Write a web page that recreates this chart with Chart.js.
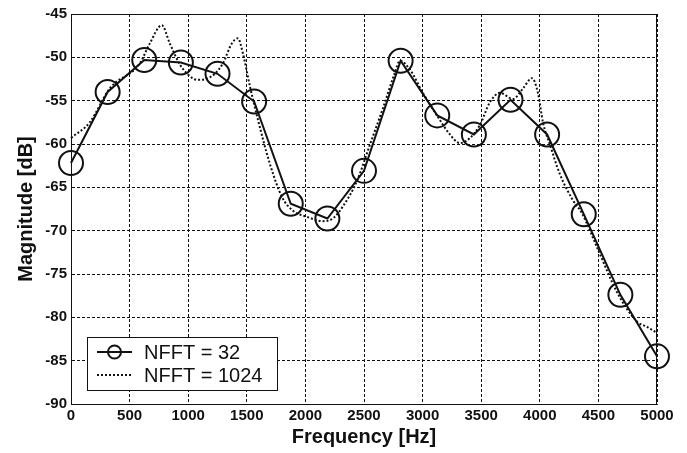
<!DOCTYPE html>
<html>
<head>
<meta charset="utf-8">
<style>
  html, body { margin: 0; padding: 0; background: #fff; }
  #wrap { width: 687px; height: 453px; }
</style>
<script src="https://cdn.jsdelivr.net/npm/chart.js@4/dist/chart.umd.min.js"></script>
</head>
<body>
<div id="wrap"><canvas id="specChart" width="687" height="453"></canvas></div>
<script>
// NFFT = 32 bins (circles)
const freq32 = [0, 312.5, 625, 937.5, 1250, 1562.5, 1875, 2187.5, 2500, 2812.5,
                3125, 3437.5, 3750, 4062.5, 4375, 4687.5, 5000];
const mag32 = [-62.2, -54.0, -50.3, -50.6, -51.9, -55.1, -66.9, -68.6, -63.1, -50.4,
               -56.7, -58.9, -54.9, -58.9, -68.1, -77.4, -84.5];

// NFFT = 1024 (dotted)
const freq1024 = [0, 160, 330, 587, 672, 775, 843, 928, 1000, 1080, 1150, 1227, 1296,
                  1372, 1424, 1466, 1526, 1586, 1697, 1800, 1894, 2013, 2150, 2234,
                  2320, 2439, 2550, 2661, 2763, 2806, 2891, 3002, 3122, 3233, 3318,
                  3404, 3489, 3574, 3660, 3771, 3856, 3933, 3984, 4027, 4087, 4172,
                  4283, 4360, 4497, 4659, 4830, 4915, 5000];
const mag1024 = [-59.3, -57.5, -53.6, -50.7, -48.4, -46.3, -48.4, -50.8, -52.0, -52.6,
                 -52.5, -51.9, -50.7, -48.4, -47.8, -49.5, -53.3, -56.7, -62.3, -66.1,
                 -67.7, -68.4, -68.9, -68.6, -67.2, -64.3, -60.1, -55.9, -51.8, -50.4,
                 -51.4, -54.1, -56.7, -58.9, -59.9, -59.3, -57.8, -55.2, -54.1, -54.8,
                 -53.6, -52.4, -54.1, -57.5, -60.1, -63.5, -66.5, -68.0, -72.2, -77.1,
                 -80.5, -81.1, -81.8];

const seriesNames = ['NFFT = 32', 'NFFT = 1024'];
const xTicks = [0, 500, 1000, 1500, 2000, 2500, 3000, 3500, 4000, 4500, 5000];
const yTicks = [-90, -85, -80, -75, -70, -65, -60, -55, -50, -45];

const FONT = '"Liberation Sans", Arial, Helvetica, sans-serif';
const INK = '#111';

const toXY = (xs, ys) => xs.map((x, i) => ({ x, y: ys[i] }));

// frame around plot + legend box in lower left
const framePlugin = {
  id: 'frame',
  afterDraw(chart) {
    const { ctx, chartArea: a } = chart;
    ctx.save();
    ctx.strokeStyle = INK;
    ctx.lineWidth = 1;
    ctx.strokeRect(a.left + 0.5, a.top + 0.5, a.right - a.left - 1, a.bottom - a.top);

    // legend
    const lx = 87, ly = 337, lw = 190, lh = 53;
    ctx.fillStyle = '#fff';
    ctx.fillRect(lx, ly, lw, lh);
    ctx.strokeRect(lx + 0.5, ly + 0.5, lw, lh);

    const r1 = ly + 15, r2 = ly + 38;
    ctx.lineWidth = 2;
    ctx.beginPath();
    ctx.moveTo(97, r1); ctx.lineTo(132, r1);
    ctx.stroke();
    ctx.beginPath();
    ctx.arc(114.5, r1, 6.5, 0, Math.PI * 2);
    ctx.stroke();

    ctx.setLineDash([2, 2]);
    ctx.beginPath();
    ctx.moveTo(97, r2); ctx.lineTo(132, r2);
    ctx.stroke();
    ctx.setLineDash([]);

    ctx.fillStyle = INK;
    ctx.font = '20px ' + FONT;
    ctx.textBaseline = 'middle';
    ctx.textAlign = 'left';
    ctx.fillText(seriesNames[0], 144, r1 + 1);
    ctx.fillText(seriesNames[1], 144, r2 + 1);
    ctx.restore();
  }
};

const noPad = (scale) => {
  scale.paddingTop = 0; scale.paddingBottom = 0;
  scale.paddingLeft = 0; scale.paddingRight = 0;
};

new Chart(document.getElementById('specChart'), {
  type: 'line',
  data: {
    datasets: [
      {
        label: seriesNames[1],
        data: toXY(freq1024, mag1024),
        borderColor: INK,
        borderWidth: 2,
        borderDash: [2, 2],
        pointRadius: 0,
        cubicInterpolationMode: 'monotone',
        clip: false
      },
      {
        label: seriesNames[0],
        data: toXY(freq32, mag32),
        borderColor: INK,
        borderWidth: 2,
        tension: 0,
        pointRadius: 12,
        pointBorderWidth: 2,
        pointBorderColor: INK,
        pointBackgroundColor: 'rgba(0,0,0,0)',
        clip: false
      }
    ]
  },
  options: {
    responsive: false,
    animation: false,
    layout: { padding: { top: 7, right: 30, left: 0, bottom: 0 } },
    plugins: { legend: { display: false }, tooltip: { enabled: false } },
    scales: {
      x: {
        type: 'linear',
        min: 0, max: 5000,
        afterBuildTicks: (s) => { s.ticks = xTicks.map(v => ({ value: v })); },
        afterFit: (s) => { s.height = 49; noPad(s); },
        ticks: {
          padding: 3,
          color: INK,
          font: { family: FONT, size: 15, weight: 'bold' },
          maxRotation: 0,
          callback: (v) => String(v)
        },
        grid: { color: INK, lineWidth: 1, drawTicks: false },
        border: { display: true, color: INK, width: 1, dash: [3, 2] },
        title: {
          display: true,
          text: 'Frequency [Hz]',
          color: INK,
          font: { family: FONT, size: 20, weight: 'bold' },
          padding: { top: 0, bottom: 4 }
        }
      },
      y: {
        type: 'linear',
        min: -90, max: -45,
        afterBuildTicks: (s) => { s.ticks = yTicks.map(v => ({ value: v })); },
        afterFit: (s) => { s.width = 71; noPad(s); },
        ticks: {
          padding: 4,
          color: INK,
          font: { family: FONT, size: 15, weight: 'bold' },
          callback: (v) => String(v)
        },
        grid: { color: INK, lineWidth: 1, drawTicks: false },
        border: { display: true, color: INK, width: 1, dash: [3, 2] },
        title: {
          display: true,
          text: 'Magnitude [dB]',
          color: INK,
          font: { family: FONT, size: 20, weight: 'bold' },
          padding: { top: 14, bottom: 0 }
        }
      }
    }
  },
  plugins: [framePlugin]
});
</script>
</body>
</html>
